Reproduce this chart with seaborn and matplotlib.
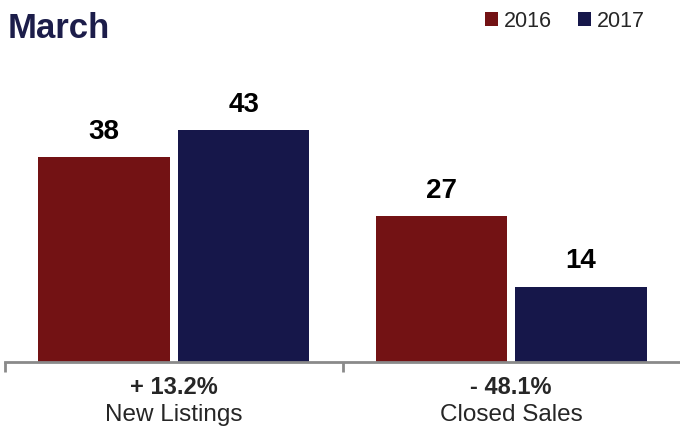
import pandas as pd
import matplotlib
matplotlib.use('Agg')
import matplotlib.pyplot as plt
import seaborn as sns

# data
categories = ['New Listings', 'Closed Sales']
years = ['2016', '2017']
values_2016 = [38, 27]
values_2017 = [43, 14]
pct_change = ['+ 13.2%', '- 48.1%']
colors = ['#731214', '#16174a']

df = pd.DataFrame({
    'category': categories * 2,
    'year': [years[0]] * 2 + [years[1]] * 2,
    'value': values_2016 + values_2017,
})

sns.set_style('white')
plt.rcParams['font.family'] = ['Liberation Sans', 'DejaVu Sans']

fig = plt.figure(figsize=(6.8, 4.3), dpi=100)
ax = fig.add_axes([5 / 680, 68 / 430, 675 / 680, 302 / 430])

sns.barplot(data=df, x='category', y='value', hue='year', palette=colors,
            width=0.828, gap=0.057, saturation=1, linewidth=0, ax=ax, legend=True)

# value labels above bars
for cont in ax.containers:
    ax.bar_label(cont, padding=9, fontsize=20, fontweight='bold', color='black')

ax.set_xlim(-0.5, 1.5)
ax.set_ylim(0, 56)
ax.set_xlabel('')
ax.set_ylabel('')
ax.set_yticks([])
ax.set_xticks([-0.5, 0.5])
ax.set_xticklabels([])
ax.tick_params(axis='x', direction='out', length=7, width=2, color='#8a8a8a', bottom=True)
for s in ['left', 'top', 'right']:
    ax.spines[s].set_visible(False)
ax.spines['bottom'].set_color('#8a8a8a')
ax.spines['bottom'].set_linewidth(2)

# category labels with percent change
trans = ax.get_xaxis_transform()
for i, cat in enumerate(categories):
    ax.text(i, -25 / 302, pct_change[i], transform=trans, ha='center', va='center',
            fontsize=17, fontweight='bold')
    ax.text(i, -53 / 302, cat, transform=trans, ha='center', va='center', fontsize=17.5)

# title
fig.text(8 / 680, 1 - 28 / 430, 'March', ha='left', va='center', fontsize=25,
         fontweight='bold', color='#1c1d4a')

# legend top right
handles, labels = ax.get_legend_handles_labels()
ax.get_legend().remove()
fig.legend(handles, labels, loc='upper right', bbox_to_anchor=(0.968, 1.005), ncol=2,
           frameon=False, fontsize=15.5, handlelength=0.6, handleheight=0.6,
           handletextpad=0.3, columnspacing=1.2, borderaxespad=0.2)

fig.savefig('out.png', dpi=100)
